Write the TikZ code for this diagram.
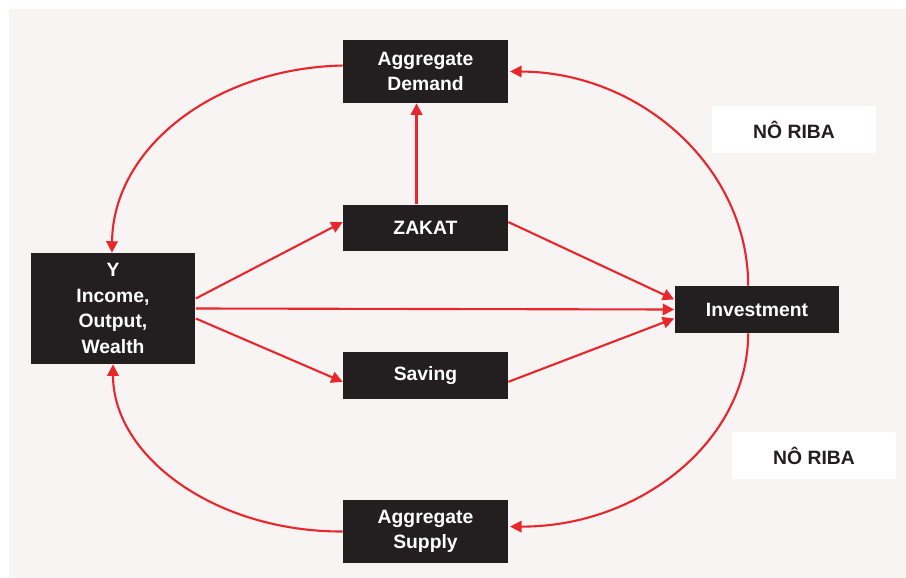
\documentclass[tikz,border=0pt]{standalone}
\usepackage{fontspec}
\setmainfont{Liberation Sans}
\usepackage{tikz}
\usetikzlibrary{arrows.meta,calc}
\definecolor{bgpink}{HTML}{F8F4F3}
\definecolor{boxblack}{HTML}{231F20}
\definecolor{flowred}{HTML}{E8262B}

\begin{document}
\begin{tikzpicture}[x=0.02cm,y=-0.02cm,
  blk/.style={fill=boxblack,text=white,minimum width=3.3cm,align=center,inner sep=0pt,
    font=\bfseries\fontsize{11}{14.5}\selectfont},
  tag/.style={fill=white,text=boxblack,minimum width=3.3cm,minimum height=0.94cm,
    font=\bfseries\fontsize{11}{14.5}\selectfont},
  flow/.style={-{Triangle[length=6.5pt,width=6.5pt]},flowred,line width=1.2pt}]
\useasboundingbox (0,0) rectangle (906,578);
\fill[bgpink] (9,9) rectangle (906,578);
\node[blk,minimum height=1.26cm] (ad) at (425.5,71.5) {Aggregate\\Demand};
\node[blk,minimum height=0.94cm] (zakat) at (425.5,228) {ZAKAT};
\node[blk,minimum height=0.94cm] (saving) at (425.5,375.5) {Saving};
\node[blk,minimum height=1.26cm] (as) at (425.5,531.5) {Aggregate\\Supply};
\node[blk,minimum height=2.22cm] (y) at (113,308.5) {Y\\Income,\\Output,\\Wealth};
\node[blk,minimum height=0.94cm] (inv) at (757,309.5) {Investment};
\node[tag] (riba1) at (794,129.5) {NÔ RIBA};
\node[tag] (riba2) at (814,455.5) {NÔ RIBA};
\draw[flow] ([yshift=3.4pt]ad.west) .. controls (216,68) and (113,147) .. ([xshift=-0.6pt]y.north);
\draw[flow] ([xshift=-5pt]inv.north) .. controls (748,168) and (641,72) .. ([xshift=1pt]ad.east);
\draw[flow] ([xshift=-5pt]inv.south) .. controls (748,440) and (641,527) .. ([xshift=1pt,yshift=2.8pt]as.east);
\draw[flow] (as.west) .. controls (216,532) and (113,457) .. (y.south);
\draw[flow] ([xshift=-5.1pt]zakat.north) -- ([xshift=-5.1pt]ad.south);
\draw[flow] ([yshift=5.7pt]y.east) -- ([yshift=3.4pt]zakat.west);
\draw[flow] (y.east) -- (inv.west);
\draw[flow] ([yshift=-5.7pt]y.east) -- ([yshift=-3.6pt]saving.west);
\draw[flow] ([yshift=3.4pt]zakat.east) -- ([yshift=5.7pt]inv.west);
\draw[flow] ([yshift=-3.6pt]saving.east) -- ([yshift=-5.1pt]inv.west);
\end{tikzpicture}
\end{document}
